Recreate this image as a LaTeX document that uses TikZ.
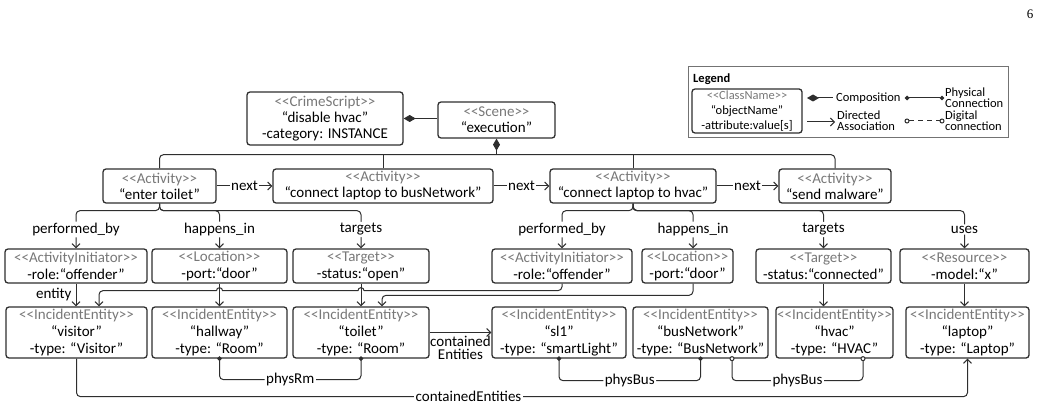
\documentclass[tikz,border=0pt]{standalone}
\usepackage{fontspec}
\setmainfont{Carlito}
\newfontfamily\timesf{Liberation Serif}
\usetikzlibrary{arrows.meta,calc}
\definecolor{stc}{HTML}{787878}
\definecolor{ln}{HTML}{2E2E2E}
\newcommand{\stt}[1]{\textcolor{stc}{<\kern0pt<#1>\kern0pt>}}
\begin{document}
\begin{tikzpicture}[x=1pt,y=-1pt,
  every node/.style={inner sep=0pt},
  fA/.style={font=\fontsize{15}{16}\selectfont},
  fB/.style={font=\fontsize{15}{17}\selectfont},
  fL/.style={font=\fontsize{12.5}{15}\selectfont},
  fL2/.style={font=\fontsize{12.5}{11}\selectfont},
  obj/.style={draw=ln, line width=1.3pt, rounded corners=3pt, align=center, anchor=center},
  ln1/.style={draw=ln, line width=1pt},
  assoc/.style={ln1, -{Straight Barb[length=4pt,width=8pt]}},
  comp/.style={ln1, {Diamond[length=12pt,width=7pt]}-},
  phys/.style={ln1, {Circle[length=4.5pt]}-{Circle[length=4.5pt]}, shorten <=-2.2pt, shorten >=-2.2pt},
  digi/.style={ln1, {Circle[open,length=5pt,fill=white]}-{Circle[open,length=5pt,fill=white]}, shorten <=-2.5pt, shorten >=-2.5pt},
  lbl/.style={fA, fill=white, inner sep=1.5pt},
]
\useasboundingbox (0,0) rectangle (1042,406);

% page number
\node[font=\timesf\fontsize{13}{13}\selectfont] (pg) at (1030,14) {6};

% legend
\node[draw=black!55, line width=0.8pt, minimum width=320pt, minimum height=71pt] (lg) at (848,101.5) {};
\node[fL, anchor=west] (lgt) at (693,79) {\bfseries Legend};
\node[obj, fL, minimum width=110pt, minimum height=44pt] (lcls) at (747,111) {\stt{ClassName}\\“objectName”\\-attribute:value[s]};
\coordinate (c1a) at (807,98); \coordinate (c1b) at (833,98);
\coordinate (c2a) at (907,98); \coordinate (c2b) at (942,98);
\coordinate (c3a) at (807,122); \coordinate (c3b) at (835,122);
\coordinate (c4a) at (907,121); \coordinate (c4b) at (942,121);
\draw[comp] (c1a) -- (c1b);
\node[fL, anchor=west] (l1) at (836,98) {Composition};
\draw[phys] (c2a) -- (c2b);
\node[fL2, anchor=west, align=left] (l2) at (945,98) {Physical\\Connection};
\draw[assoc] (c3a) -- (c3b);
\node[fL2, anchor=west, align=left] (l3) at (837,120.5) {Directed\\Association};
\draw[digi, dash pattern=on 5pt off 4pt] (c4a) -- (c4b);
\node[fL2, anchor=west, align=left] (l4) at (945,120.5) {Digital\\connection};

% top
\node[obj, fA, minimum width=156pt, minimum height=53pt] (cs) at (325,118.5) {\stt{CrimeScript}\\“disable hvac”\\-category: INSTANCE};
\node[obj, fA, minimum width=117pt, minimum height=36pt] (sc) at (496.5,120) {\stt{Scene}\\“execution”};
\draw[comp] (cs.east) -- (cs.east -| sc.west);

% activities
\node[obj, fA, minimum width=113pt, minimum height=34pt] (a1) at (159.5,186) {\stt{Activity}\\“enter toilet”};
\node[obj, fA, minimum width=220pt, minimum height=34pt] (a2) at (383,186) {\stt{Activity}\\“connect laptop to busNetwork”};
\node[obj, fA, minimum width=166pt, minimum height=34pt] (a3) at (633,186) {\stt{Activity}\\“connect laptop to hvac”};
\node[obj, fA, minimum width=112pt, minimum height=34pt] (a4) at (835,186) {\stt{Activity}\\“send malware”};

\coordinate (bus) at ($(sc.south)+(0,16)$);
\draw[comp] (sc.south) -- (bus);
\draw[ln1, rounded corners=4pt] (a1.north) |- (bus) -| (a4.north);
\draw[ln1] (a2.north) -- (a2.north |- bus);
\draw[ln1] (a3.north) -- (a3.north |- bus);

\draw[assoc] (a1.east) -- node[lbl]{next} (a2.west);
\draw[assoc] (a2.east) -- node[lbl]{next} (a3.west);
\draw[assoc] (a3.east) -- node[lbl]{next} (a4.west);

% row 2
\node[obj, fB, minimum width=142pt, minimum height=34pt] (ai1) at (76,266) {\stt{ActivityInitiator}\\-role:“offender”};
\node[obj, fB, minimum width=135pt, minimum height=34pt] (lo1) at (219.5,266) {\stt{Location}\\-port:“door”};
\node[obj, fB, minimum width=136pt, minimum height=34pt] (tg1) at (361,266) {\stt{Target}\\-status:“open”};
\node[obj, fB, minimum width=140pt, minimum height=34pt] (ai2) at (562,266) {\stt{ActivityInitiator}\\-role:“offender”};
\node[obj, fB, minimum width=91pt, minimum height=34pt] (lo2) at (687.5,266) {\stt{Location}\\-port:“door”};
\node[obj, fB, minimum width=135pt, minimum height=34pt] (tg2) at (823.5,266) {\stt{Target}\\-status:“connected”};
\node[obj, fB, minimum width=129pt, minimum height=34pt] (rs) at (964.5,266) {\stt{Resource}\\-model:“x”};

\coordinate (j1) at ($(a1.south)+(0,7)$);
\draw[assoc, rounded corners=4pt] (a1.south) -- (j1) -| node[lbl,pos=0.75]{performed\_by} (ai1.north);
\draw[assoc, rounded corners=4pt] (a1.south) -- (j1) -| node[lbl,pos=0.75]{happens\_in} (lo1.north);
\draw[assoc, rounded corners=4pt] (a1.south) -- (j1) -| node[lbl,pos=0.75]{targets} (tg1.north);

\coordinate (j3) at ($(a3.south)+(0,7)$);
\draw[assoc, rounded corners=4pt] (a3.south) -- (j3) -| node[lbl,pos=0.75]{performed\_by} (ai2.north);
\draw[assoc, rounded corners=4pt] (a3.south) -- (j3) -| node[lbl,pos=0.75]{happens\_in} ($(lo2.north)+(5.5,0)$);
\draw[assoc, rounded corners=4pt] (a3.south) -- (j3) -| node[lbl,pos=0.75]{targets} (tg2.north);
\draw[assoc, rounded corners=4pt] (a3.south) -- (j3) -| node[lbl,pos=0.75]{uses} (rs.north);

% row 3
\node[obj, fB, minimum width=141pt, minimum height=51pt] (ie1) at (76.5,332.5) {\stt{IncidentEntity}\\“visitor”\\-type: “Visitor”};
\node[obj, fB, minimum width=135pt, minimum height=51pt] (ie2) at (219.5,332.5) {\stt{IncidentEntity}\\“hallway”\\-type: “Room”};
\node[obj, fB, minimum width=136pt, minimum height=51pt] (ie3) at (361,332.5) {\stt{IncidentEntity}\\“toilet”\\-type: “Room”};
\node[obj, fB, minimum width=134pt, minimum height=51pt] (ie4) at (559,332.5) {\stt{IncidentEntity}\\“sl1”\\-type: “smartLight”};
\node[obj, fB, minimum width=135pt, minimum height=51pt] (ie5) at (700.5,332.5) {\stt{IncidentEntity}\\“busNetwork”\\-type: “BusNetwork”};
\node[obj, fB, minimum width=117pt, minimum height=51pt] (ie6) at (834.5,332.5) {\stt{IncidentEntity}\\“hvac”\\-type: “HVAC”};
\node[obj, fB, minimum width=123pt, minimum height=51pt] (ie7) at (967.5,332.5) {\stt{IncidentEntity}\\“laptop”\\-type: “Laptop”};

\draw[assoc] (ai1.south) -- node[fA, left=4pt]{entity} (ai1.south |- ie1.north);
\draw[assoc] (lo1.south) -- (lo1.south |- ie2.north);
\draw[assoc] (tg1.south) -- (tg1.south |- ie3.north);
\draw[assoc] (tg2.south) -- (tg2.south |- ie6.north);
\draw[assoc] (rs.south) -- (rs.south |- ie7.north);

% offender 2 -> visitor, with hops
\coordinate (hA) at ($(tg1.south)+(3,7)$);
\coordinate (hB) at ($(lo1.south)+(-3,7)$);
\draw[ln1, rounded corners=4pt] (ai2.south) |- (hA);
\draw[ln1] (hA) arc[start angle=0, end angle=-180, radius=3] -- ($(lo1.south)+(3,7)$) arc[start angle=0, end angle=-180, radius=3];
\draw[assoc, rounded corners=4pt] (hB) -| ($(ie1.north)+(22.5,0)$);

% location 2 -> toilet
\draw[assoc, rounded corners=4pt] ($(lo2.south)+(5.5,0)$) |- ($(ie3.north)+(21,-11)$) -- ($(ie3.north)+(21,0)$);

% bottom connections
\draw[phys, rounded corners=4pt] (ie2.south) |- node[lbl,pos=0.75]{physRm} ($(ie3.south)+(0,21)$) -- (ie3.south);
\draw[phys, rounded corners=4pt] (ie4.south) |- node[lbl,pos=0.75]{physBus} ($(ie5.south)+(0,22)$) -- (ie5.south);
\draw[digi, rounded corners=4pt] ($(ie5.south)+(31.5,0)$) |- node[lbl,pos=0.75]{physBus} ($(ie6.south)+(28.5,22)$) -- ($(ie6.south)+(28.5,0)$);

\draw[assoc] (ie3.east) -- (ie4.west);
\node[font=\fontsize{15}{13}\selectfont, align=center, anchor=north] (ceLbl) at ($(ie3.east)!0.5!(ie4.west)+(0,3)$) {contained\\Entities};

\draw[assoc, rounded corners=4pt] (ie1.south) |- node[lbl,pos=0.72]{containedEntities} ($(ie7.south)+(0,38)$) -- (ie7.south);
\end{tikzpicture}
\end{document}
